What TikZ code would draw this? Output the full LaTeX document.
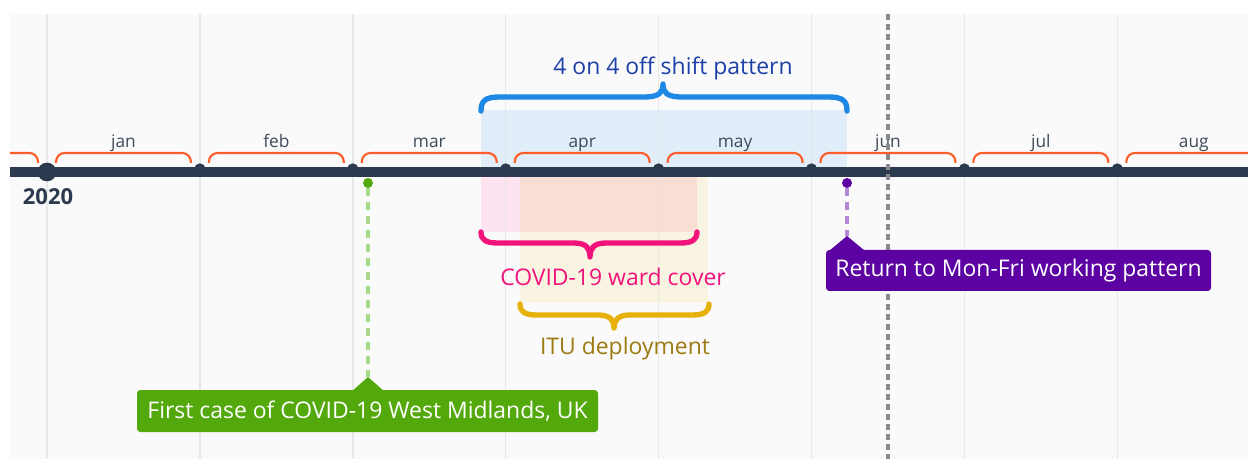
\documentclass[tikz,border=0pt]{standalone}
\usepackage{fontspec}
\setmainfont{Open Sans}
\definecolor{panel}{HTML}{FAFAFA}
\definecolor{gridc}{HTML}{E4E4E4}
\definecolor{navy}{HTML}{2B3A4E}
\definecolor{orng}{HTML}{FF5E2B}
\definecolor{monthtxt}{HTML}{3F4B5B}
\definecolor{bluebr}{HTML}{1E88E5}
\definecolor{bluetxt}{HTML}{1D3FA8}
\definecolor{bluereg}{HTML}{E1EDF8}
\definecolor{pinkbr}{HTML}{F2127C}
\definecolor{pinkreg}{HTML}{FDE4F0}
\definecolor{salmon}{HTML}{F9DED6}
\definecolor{itubr}{HTML}{E8B10A}
\definecolor{itureg}{HTML}{F8F4E1}
\definecolor{itutxt}{HTML}{9B7A12}
\definecolor{grn}{HTML}{53A90B}
\definecolor{grnlt}{HTML}{A8D88A}
\definecolor{prp}{HTML}{5C02A3}
\definecolor{prplt}{HTML}{B48AD8}
\definecolor{todayc}{HTML}{8A8A8A}
\begin{document}
\begin{tikzpicture}[x=0.75pt,y=-0.75pt,
  gridline/.style={draw=gridc,line width=1.1pt},
  monthbr/.style={draw=orng,line width=1.6pt,rounded corners=6.5pt},
  monthlbl/.style={text=monthtxt,font=\fontsize{13}{15}\selectfont,inner sep=0pt},
  tickdot/.style={circle,fill=navy,inner sep=0pt,minimum size=8.5pt},
  bigbrace/.style={line width=4pt,line cap=round,line join=round},
  spanlbl/.style={font=\fontsize{17.2}{20}\selectfont,inner sep=0pt},
  callout/.style={rounded corners=2.5pt,text=white,font=\fontsize{17.2}{20}\selectfont,inner sep=0pt},
  markdot/.style={circle,inner sep=0pt,minimum size=7.5pt},
  markline/.style={line width=2.5pt,dash pattern=on 6pt off 4.5pt}
]
\useasboundingbox (0,0) rectangle (1248,459);
\fill[panel] (10,14) rectangle (1248,459);
% shaded spans
\fill[bluereg] (481,110) rectangle (847,172);
\fill[pinkreg] (481,176) rectangle (520,232);
\fill[salmon] (520,176) rectangle (697,232);
\fill[itureg] (697,176) rectangle (708,232);
\fill[itureg] (520,232) rectangle (708,303);
% grid lines
\foreach \i in {0,...,7}{
  \pgfmathsetmacro{\gx}{47+152.9*\i}
  \draw[gridline,opacity=0.8] (\gx,14) -- (\gx,459);
}
% month brackets and labels
\begin{scope}
\clip (10,14) rectangle (1248,459);
\foreach \i/\m in {-1/,0/jan,1/feb,2/mar,3/apr,4/may,5/jun,6/jul,7/aug}{
  \pgfmathsetmacro{\xa}{47+152.9*\i+9}
  \pgfmathsetmacro{\xb}{47+152.9*(\i+1)-9}
  \pgfmathsetmacro{\xm}{47+152.9*\i+76.5}
  \draw[monthbr] (\xa,163) -- (\xa,153) -- (\xb,153) -- (\xb,163);
  \node[monthlbl,anchor=base] (m\i) at (\xm,148) {\m};
}
\end{scope}
% axis
\draw[navy,line width=7.2pt] (10,172) -- (1248,172);
\foreach \i in {1,...,7}{
  \pgfmathsetmacro{\gx}{47+152.9*\i}
  \node[tickdot] (t\i) at (\gx,169) {};
}
\node[circle,fill=navy,inner sep=0pt,minimum size=14pt] (y2020) at (47,172) {};
\node[text=navy,font=\bfseries\fontsize{16.5}{19}\selectfont,inner sep=0pt] (l2020) at (48,197) {2020};
% blue brace
\draw[bigbrace,bluebr] (481,111) .. controls (481,100) and (486,97) .. (500,97) -- (644,97)
  .. controls (660,97) and (663,92) .. (663,84) .. controls (663,92) and (666,97) .. (682,97) -- (828,97)
  .. controls (842,97) and (847,100) .. (847,111);
\node[spanlbl,text=bluetxt] (shift) at (673,68) {4 on 4 off shift pattern};
% pink brace
\draw[bigbrace,pinkbr] (481,232) .. controls (481,240) and (486,243) .. (498,243) -- (574,243)
  .. controls (587,243) and (590,249) .. (590,257) .. controls (590,249) and (593,243) .. (606,243) -- (680,243)
  .. controls (692,243) and (697,240) .. (697,232);
\node[spanlbl,text=pinkbr] (ward) at (613,277) {COVID-19 ward cover};
% ITU brace
\draw[bigbrace,itubr] (520,304) .. controls (520,312) and (525,315) .. (537,315) -- (598,315)
  .. controls (611,315) and (614,321) .. (614,328) .. controls (614,321) and (617,315) .. (630,315) -- (692,315)
  .. controls (704,315) and (709,312) .. (709,304);
\node[spanlbl,text=itutxt] (itu) at (625,349) {ITU deployment};
% today line
\draw[todayc,line width=2.5pt,dash pattern=on 4.5pt off 3pt] (888,14) -- (888,459);
% green marker
\node[markdot,fill=grn] (gdot) at (368,183) {};
\coordinate (gptr) at (368,377);
\draw[markline,grnlt] (gdot) -- (gptr);
\fill[grn] (gptr) -- ++(-17,15) -- ++(34,0) -- cycle;
\node[callout,fill=grn,minimum width=345.75pt,minimum height=31.5pt] (first) at (367.5,411)
  {First case of COVID-19 West Midlands, UK};
% purple marker
\node[markdot,fill=prp] (pdot) at (847,183) {};
\coordinate (pptr) at (847,236);
\draw[markline,prplt] (pdot) -- (pptr);
\fill[prp] (pptr) -- ++(-18,15) -- ++(36,0) -- cycle;
\node[callout,fill=prp,minimum width=288.75pt,minimum height=30.75pt] (ret) at (1018.5,270.5)
  {Return to Mon-Fri working pattern};
\end{tikzpicture}
\end{document}
